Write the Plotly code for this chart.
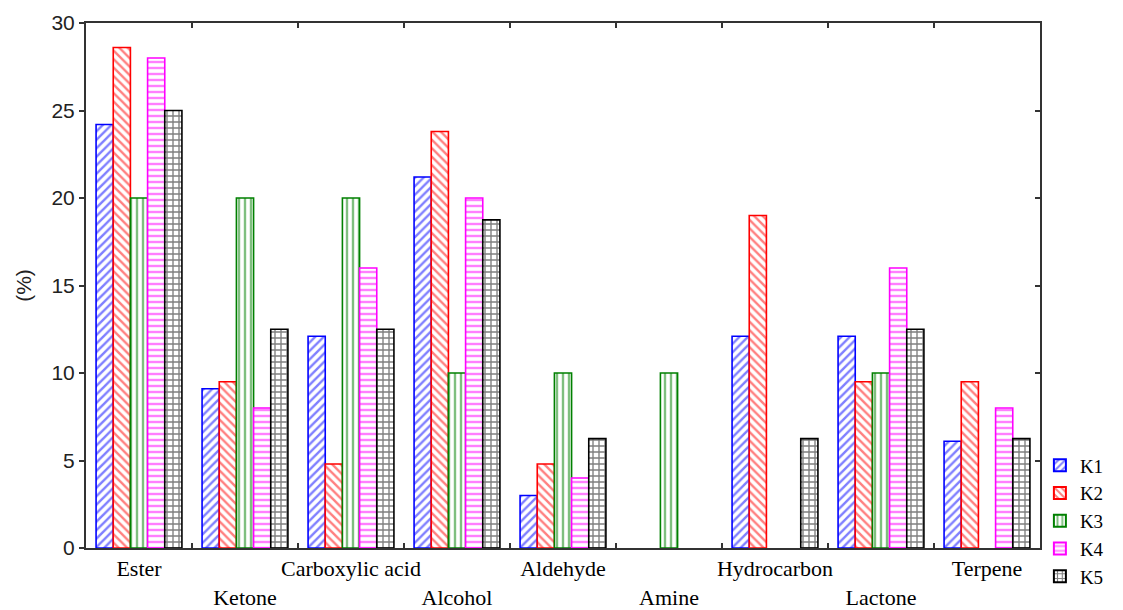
import plotly.graph_objects as go

categories = ["Ester", "Ketone", "Carboxylic acid", "Alcohol", "Aldehyde",
              "Amine", "Hydrocarbon", "Lactone", "Terpene"]
series_names = ["K1", "K2", "K3", "K4", "K5"]
K1 = [24.2, 9.1, 12.1, 21.2, 3.0, None, 12.1, 12.1, 6.1]
K2 = [28.6, 9.5, 4.8, 23.8, 4.8, None, 19.0, 9.5, 9.5]
K3 = [20.0, 20.0, 20.0, 10.0, 10.0, 10.0, None, 10.0, None]
K4 = [28.0, 8.0, 16.0, 20.0, 4.0, None, None, 16.0, 8.0]
K5 = [25.0, 12.5, 12.5, 18.75, 6.25, None, 6.25, 12.5, 6.25]
y_ticks = [0, 5, 10, 15, 20, 25, 30]

values = [K1, K2, K3, K4, K5]
colors = ["#0000ff", "#ff0000", "#008000", "#ff00ff", "#000000"]
shapes = ["/", "\\", "|", "-", "+"]

xpos = list(range(len(categories)))
ticktext = [c if i % 2 == 0 else "<br>" + c for i, c in enumerate(categories)]

fig = go.Figure()
for name, vals, col, shp in zip(series_names, values, colors, shapes):
    fig.add_trace(go.Bar(
        x=xpos, y=vals, name=name,
        marker=dict(color="white",
                    line=dict(color=col, width=1.6),
                    pattern=dict(shape=shp, fgcolor=col, bgcolor="white",
                                 size=6, solidity=0.4, fillmode="overlay")),
    ))

# helper invisible trace for the mirrored tick axes
fig.add_trace(go.Scatter(x=[0], y=[0], xaxis="x2", yaxis="y2", mode="markers",
                         marker=dict(opacity=0), showlegend=False, hoverinfo="skip"))

axis_col = "#333333"
fig.update_layout(
    width=1123, height=610,
    margin=dict(l=86, r=83, t=23, b=62, autoexpand=False),
    paper_bgcolor="white", plot_bgcolor="white",
    barmode="group", bargap=0.19, bargroupgap=0,
    showlegend=True,
    legend=dict(xref="container", yref="container", x=0.926, y=0.268,
                xanchor="left", yanchor="top",
                font=dict(family="Liberation Serif", size=19, color="black"),
                tracegroupgap=0, itemsizing="constant", bgcolor="rgba(0,0,0,0)"),
    xaxis=dict(range=[-0.5, 8.5], tickmode="array", tickvals=xpos, ticktext=ticktext,
               ticks="", showgrid=False, zeroline=False, tickangle=0, automargin=False,
               showline=True, linecolor=axis_col, linewidth=2, mirror=True,
               tickfont=dict(family="Liberation Serif", size=22, color="black")),
    xaxis2=dict(range=[-0.5, 8.5], overlaying="x", anchor="y", side="bottom",
                tickmode="array", tickvals=[i + 0.5 for i in range(len(categories) - 1)],
                ticks="inside", ticklen=5, tickwidth=2, tickcolor=axis_col,
                showticklabels=False, showgrid=False, zeroline=False,
                showline=False, mirror="ticks"),
    yaxis=dict(range=[0, 30], tickmode="array", tickvals=y_ticks,
               ticks="outside", ticklen=5, tickwidth=2, tickcolor=axis_col,
               showgrid=False, zeroline=False, automargin=False,
               showline=True, linecolor=axis_col, linewidth=2, mirror=True,
               tickfont=dict(family="Liberation Sans", size=21, color="#222222"),
               title=dict(text="(%)", standoff=14,
                          font=dict(family="Liberation Sans", size=21, color="#222222"))),
    yaxis2=dict(range=[0, 30], overlaying="y", anchor="x", side="right",
                tickmode="array", tickvals=y_ticks,
                ticks="inside", ticklen=5, tickwidth=2, tickcolor=axis_col,
                showticklabels=False, showgrid=False, zeroline=False, showline=False),
)

fig.write_html("out.html", config={"displayModeBar": False},
               post_script="document.body.style.margin='0';document.body.style.overflow='hidden';")
